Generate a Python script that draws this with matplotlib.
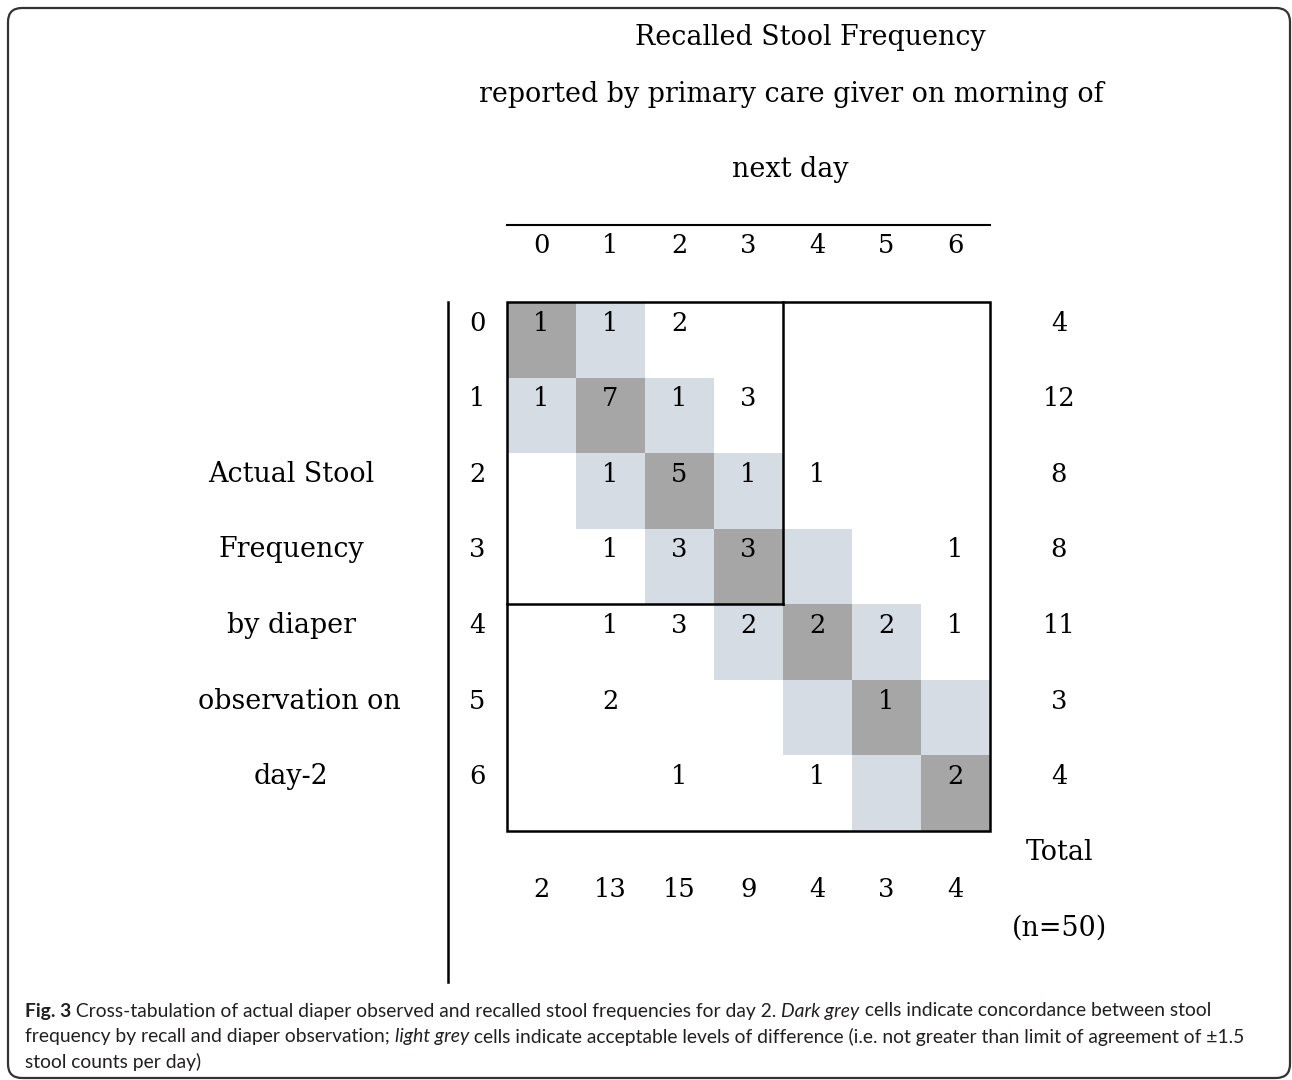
import numpy as np
import matplotlib
matplotlib.use("Agg")
import matplotlib.pyplot as plt
from matplotlib.patches import Rectangle, FancyBboxPatch

# recalled frequency (columns) vs actual frequency (rows), day 2
levels = [0, 1, 2, 3, 4, 5, 6]
counts = [
    [1, 1, 2, None, None, None, None],
    [1, 7, 1, 3, None, None, None],
    [None, 1, 5, 1, 1, None, None],
    [None, 1, 3, 3, None, None, 1],
    [None, 1, 3, 2, 2, 2, 1],
    [None, 2, None, None, None, 1, None],
    [None, None, 1, None, 1, None, 2],
]
row_totals = [4, 12, 8, 8, 11, 3, 4]
col_totals = [2, 13, 15, 9, 4, 3, 4]
col_title = ["Recalled Stool Frequency",
             "reported by primary care giver on morning of",
             "next day"]
row_title = ["Actual Stool", "Frequency", "by diaper", "observation on", "day-2"]

dark = "#a6a6a6"
light = "#d6dce4"
serif = ["DejaVu Serif"]
fs = 18.5
fs_words = 19.4

W, H = 1292, 1080
fig = plt.figure(figsize=(W / 100, H / 100), dpi=100)

# frame around the whole figure
bg = fig.add_axes([0, 0, 1, 1])
bg.set_xlim(0, W)
bg.set_ylim(H, 0)
bg.axis("off")
bg.add_patch(FancyBboxPatch((8, 8), W - 10, H - 10, boxstyle="round,pad=0,rounding_size=14",
                            fill=False, lw=1.6, ec="#333333", clip_on=False))

# grid axes: one unit per cell
ax = fig.add_axes([507 / W, 1 - 831 / H, 483 / W, 529 / H])
ax.set_xlim(0, 7)
ax.set_ylim(7, 0)
ax.axis("off")

n = len(levels)
for r in range(n):
    for c in range(n):
        if r == c:
            ax.add_patch(Rectangle((c, r), 1, 1, fc=dark, ec="none"))
        elif abs(r - c) == 1:
            ax.add_patch(Rectangle((c, r), 1, 1, fc=light, ec="none"))
        v = counts[r][c]
        if v is not None:
            ax.text(c + 0.5, r + 0.28, str(v), ha="center", va="center",
                    fontsize=fs, family=serif)

# boxes
ax.add_patch(Rectangle((0, 0), 7, 7, fill=False, lw=1.8, ec="black", clip_on=False))
ax.plot([4, 4], [0, 4], color="black", lw=1.8, clip_on=False)
ax.plot([0, 4], [4, 4], color="black", lw=1.8, clip_on=False)

# headers and totals
for i, lv in enumerate(levels):
    ax.text(i + 0.5, -0.75, str(lv), ha="center", va="center", fontsize=fs, family=serif)
    ax.text(-0.43, i + 0.28, str(lv), ha="center", va="center", fontsize=fs, family=serif)
    ax.text(8.0, i + 0.28, str(row_totals[i]), ha="center", va="center", fontsize=fs, family=serif)
    ax.text(i + 0.5, 7.78, str(col_totals[i]), ha="center", va="center", fontsize=fs, family=serif)
ax.text(8.0, 7.28, "Total", ha="center", va="center", fontsize=fs_words, family=serif)
ax.text(8.0, 8.28, "(n=50)", ha="center", va="center", fontsize=fs_words, family=serif)

ax.plot([0, 7], [-1.02, -1.02], color="black", lw=1.5, clip_on=False)
ax.plot([-0.855, -0.855], [0, 9.0], color="black", lw=1.8, clip_on=False)

for t, x, y in zip(col_title, [4.39, 4.12, 4.1], [-3.5, -2.75, -1.75]):
    ax.text(x, y, t, ha="center", va="center", fontsize=fs_words, family=serif)
for k, t in enumerate(row_title):
    ax.text(-3.13 if k != 3 else -3.01, 2.28 + k, t, ha="center", va="center",
            fontsize=fs_words, family=serif)

# caption with mixed bold / italic pieces
cap_font = ["Lato", "DejaVu Sans"]
cap_fs = 13.9
lines = [
    [("Fig. 3", "bold", "normal"), (" Cross-tabulation of actual diaper observed and recalled stool frequencies for day 2. ", "normal", "normal"),
     ("Dark grey", "normal", "italic"), (" cells indicate concordance between stool", "normal", "normal")],
    [("frequency by recall and diaper observation; ", "normal", "normal"), ("light grey", "normal", "italic"),
     (" cells indicate acceptable levels of difference (i.e. not greater than limit of agreement of \u00b11.5", "normal", "normal")],
    [("stool counts per day)", "normal", "normal")],
]
renderer = fig.canvas.get_renderer()
for li, parts in enumerate(lines):
    x = 25
    y = 1011 + li * 25.5
    for txt, wt, st in parts:
        t = bg.text(x, y, txt, ha="left", va="center", fontsize=cap_fs, family=cap_font,
                    weight=wt, style=st, color="#231f20")
        bb = t.get_window_extent(renderer)
        x += bb.width

fig.savefig("out.png", dpi=100)
